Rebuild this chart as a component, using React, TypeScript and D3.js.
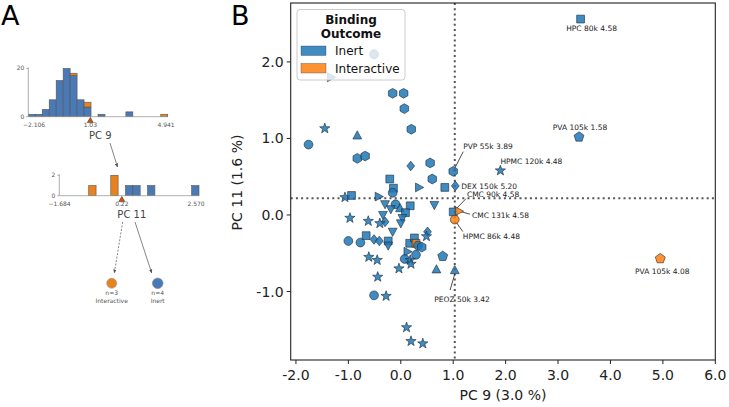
import React from 'react';
import * as d3 from 'd3';

// ---------- Panel B data ----------
const xTicks = [-2, -1, 0, 1, 2, 3, 4, 5, 6];
const yTicks = [-1, 0, 1, 2];
const splitPC9 = 1.03;
const splitPC11 = 0.22;

const pc9 = [
  -0.51, -1.33, -0.155, 0.055, 0.067, 0.2, -1.45, -1.76, -0.83, -0.83,
  -0.68, 0.19, 0.56, 0.6, 1.0, -0.21, -0.14, -0.155, 0.35, 0.84,
  1.04, -1.065, -0.94, -0.42, -0.3, -0.1, -0.015, 0.18, 0.09, -0.19,
  -0.34, 0.03, 0.0, -0.3, -0.4, -0.62, -0.97, -0.155, 0.64, 0.51,
  0.49, -1.0, -0.77, -0.66, -0.51, -0.41, -0.24, -0.24, 0.17, 0.26,
  0.29, 0.33, 0.4, 0.13, 0.075, 0.29, 0.18, 0.195, -0.61, -0.45,
  -0.035, -0.44, -0.51, -0.28, 0.11, 0.195, 0.42, 0.8, 0.68, 1.03,
  1.0, 1.11, 1.03, 4.95, 3.4, 1.9, 3.43,
];
const pc11 = [
  2.1, 1.8, 1.59, 1.59, 1.39, 1.12, 1.13, 0.92, 1.04, 0.74,
  0.77, 0.64, 0.68, 0.47, 0.57, 0.47, 0.35, 0.29, 0.36, 0.36,
  0.38, 0.23, 0.255, 0.24, 0.14, 0.14, 0.09, 0.12, 0.03, 0.075,
  0.0, -0.04, -0.11, -0.09, -0.11, -0.08, -0.04, -0.22, 0.13, -0.22,
  -0.28, -0.34, -0.36, -0.27, -0.32, -0.34, -0.34, -0.4, -0.37, -0.3,
  -0.37, -0.4, -0.42, -0.48, -0.575, -0.52, -0.59, -0.64, -0.55, -0.59,
  -0.7, -0.81, -1.05, -1.06, -1.47, -1.65, -1.68, -0.54, -0.71, -0.72,
  0.04, 0.05, -0.06, -0.57, 1.02, 0.58, 2.56,
];
// c circle, h hexagon, p pentagon, s square, d diamond, * star, ^ v > triangles
const shapes = [
  'c', '>', 'h', 'h', 'h', 'h', '*', 'c', '^', 'h',
  'h', 'd', 'h', 'h', 'h', 's', 's', 'c', '>', 's',
  'd', '*', 's', '>', 'v', 'c', '^', 's', 's', 'v',
  'v', 'v', 'v', 'd', '*', '*', '*', 'v', 'v', 'd',
  '*', 'c', 'c', 's', 'd', 'd', 's', 'v', 's', 's',
  's', 'c', 'h', '>', 'c', 'c', '*', '*', '*', '*',
  '*', '*', 'c', '*', '*', '*', '*', 'p', '^', '^',
  's', '>', 'c', 'p', 'p', '*', 's',
];
const outcome = [
  0, 0, 0, 0, 0, 0, 0, 0, 0, 0,
  0, 0, 0, 0, 0, 0, 0, 0, 0, 0,
  0, 0, 0, 0, 0, 0, 0, 0, 0, 0,
  0, 0, 0, 0, 0, 0, 0, 0, 0, 0,
  0, 0, 0, 0, 0, 0, 0, 0, 0, 0,
  1, 0, 0, 0, 0, 0, 0, 0, 0, 0,
  0, 0, 0, 0, 0, 0, 0, 0, 0, 0,
  0, 1, 1, 1, 0, 0, 0,
];
const outcomeNames = ['Inert', 'Interactive'];

const annText = [
  'HPC 80k 4.58', 'PVA 105k 1.58', 'HPMC 120k 4.48', 'PVP 55k 3.89', 'DEX 150k 5.20',
  'CMC 90k 4.58', 'CMC 131k 4.58', 'HPMC 86k 4.48', 'PVA 105k 4.08', 'PEOZ 50k 3.42',
];
const annIdx = [76, 74, 75, 14, 20, 70, 71, 72, 73, 69];

// ---------- Panel A data ----------
const pc9Domain = [-2.106, 4.941];
const pc9Inert = [1, 1, 3, 7, 15, 20, 17, 7, 4, 0, 1, 0, 0, 0, 2, 0, 0, 0, 0, 0];
const pc9Inter = [0, 0, 0, 0, 0, 0, 1, 0, 2, 0, 0, 0, 0, 0, 0, 0, 0, 0, 0, 1];
const pc11Domain = [-1.684, 2.57];
const pc11Inert = [0, 0, 0, 0, 0, 0, 0, 0, 0, 1, 1, 0, 1, 0, 0, 0, 0, 0, 1];
const pc11Inter = [0, 0, 0, 0, 1, 0, 0, 2, 0, 0, 0, 0, 0, 0, 0, 0, 0, 0, 0];
const leafN = [3, 4];
const leafName = ['Interactive', 'Inert'];

// ---------- styles / layout ----------
const FONT = 'DejaVu Sans, sans-serif';
const BLUE = '#1f77b4';
const ORANGE = '#ff7f0e';
const HBLUE = '#4a79b6';
const HORANGE = '#e8821e';

// annotation layout: [dx, dy, anchor, leader x1,y1,x2,y2 | null]
const annLayout: [number, number, string, number[] | null][] = [
  [11, 12, 'middle', null],
  [1, -7, 'middle', null],
  [0, -7, 'start', null],
  [10, -22.7, 'start', [0, 0, 10, -19.7]],
  [6, 3, 'start', null],
  [13.7, -15.2, 'start', [2.7, -2.7, 12.7, -13.2]],
  [13, 6.5, 'start', [2, 0.5, 11, 3]],
  [8, 19.7, 'start', [1, 2, 8, 12]],
  [2, 15, 'middle', null],
  [7.3, 32, 'middle', [0, 4, -4.7, 20]],
];

function poly(n: number, r: number, rot = -Math.PI / 2) {
  const pts: string[] = [];
  for (let i = 0; i < n; i++) {
    const a = rot + (i * 2 * Math.PI) / n;
    pts.push(`${(r * Math.cos(a)).toFixed(2)},${(r * Math.sin(a)).toFixed(2)}`);
  }
  return 'M' + pts.join('L') + 'Z';
}
function star(R: number, r: number) {
  const pts: string[] = [];
  for (let i = 0; i < 10; i++) {
    const a = -Math.PI / 2 + (i * Math.PI) / 5;
    const rr = i % 2 === 0 ? R : r;
    pts.push(`${(rr * Math.cos(a)).toFixed(2)},${(rr * Math.sin(a)).toFixed(2)}`);
  }
  return 'M' + pts.join('L') + 'Z';
}
function shapePath(s: string) {
  switch (s) {
    case 'c': return d3.symbol(d3.symbolCircle, Math.PI * 4.4 * 4.4)() as string;
    case 'h': return poly(6, 4.9);
    case 'p': return poly(5, 5.2);
    case 's': return 'M-3.9,-3.9L3.9,-3.9L3.9,3.9L-3.9,3.9Z';
    case 'd': return 'M0,-4.8L3.9,0L0,4.8L-3.9,0Z';
    case '*': return star(5.4, 2.2);
    case '^': return 'M0,-4.6L4.4,3.6L-4.4,3.6Z';
    case 'v': return 'M0,4.6L4.4,-3.6L-4.4,-3.6Z';
    case '>': return 'M4.6,0L-3.6,4.4L-3.6,-4.4Z';
    default: return poly(8, 4);
  }
}

function Hist({ domain, inert, inter, x0, x1, base, ppu, ymax, split, labels, labelTitle, titleY, labelCenters }: any) {
  const xs = d3.scaleLinear().domain(domain).range([x0, x1]);
  const ys = d3.scaleLinear().domain([0, ymax]).range([base, base - ymax * ppu]);
  const n = inert.length;
  const w = (domain[1] - domain[0]) / n;
  return (
    <g>
      {inert.map((c: number, i: number) => {
        const a = xs(domain[0] + i * w), b = xs(domain[0] + (i + 1) * w);
        const o = inter[i];
        return (
          <g key={i}>
            {c > 0 && <rect x={a} y={ys(c)} width={b - a} height={ys(0) - ys(c)} fill={HBLUE} stroke="#555" strokeWidth={0.6} />}
            {o > 0 && <rect x={a} y={ys(c + o)} width={b - a} height={ys(c) - ys(c + o)} fill={HORANGE} stroke="#555" strokeWidth={0.6} />}
          </g>
        );
      })}
      <line x1={x0} x2={x1} y1={base} y2={base} stroke="#999" strokeWidth={0.8} />
      <line x1={x0} x2={x0} y1={base} y2={ys(ymax) - 1} stroke="#999" strokeWidth={0.8} />
      {[0, ymax].map((t) => (
        <g key={t}>
          <line x1={x0 - 2} x2={x0} y1={ys(t)} y2={ys(t)} stroke="#999" strokeWidth={0.8} />
          <text x={x0 - 4} y={ys(t) + 2} fontSize={6} textAnchor="end" fill="#555" fontFamily={FONT}>{t}</text>
        </g>
      ))}
      {labels.map((l: string, i: number) => (
        <text key={l} x={labelCenters[i]} y={base + 10} fontSize={6} textAnchor="middle" fill="#555" fontFamily={FONT}>{l}</text>
      ))}
      <path d="M0,-2.8L3,2.4L-3,2.4Z" transform={`translate(${xs(split)},${base + 3.5})`} fill="#c4561c" stroke="#4a1a00" strokeWidth={0.5} />
      <text x={xs(split) + 10} y={titleY} fontSize={10} textAnchor="middle" fill="#444" fontFamily={FONT}>{labelTitle}</text>
    </g>
  );
}

export default function App() {
  const x = d3.scaleLinear().domain([-2.1, 6.0]).range([290.7, 715.3]);
  const y = d3.scaleLinear().domain([-1.895, 2.77]).range([360, 3]);
  const [L, R] = x.range();
  const [B, T] = y.range();
  const order = d3.range(pc9.length);

  const xs1 = d3.scaleLinear().domain(pc9Domain).range([28.3, 167.7]);
  const xs2 = d3.scaleLinear().domain(pc11Domain).range([59.3, 199]);

  return (
    <svg width={729} height={407} style={{ position: 'absolute', left: 0, top: 0, background: '#fff' }} fontFamily={FONT}>
      <defs>
        <marker id="arr" viewBox="0 0 10 10" refX="9" refY="5" markerWidth="5" markerHeight="5" orient="auto">
          <path d="M0,1L10,5L0,9Z" fill="#555" />
        </marker>
      </defs>
      <rect width={729} height={407} fill="#fff" />

      {/* Panel A */}
      <text x={1} y={25} fontSize={27} fill="#000">A</text>
      <Hist domain={pc9Domain} inert={pc9Inert} inter={pc9Inter} x0={xs1.range()[0]} x1={xs1.range()[1]} base={116.7} ppu={2.415} ymax={20}
        split={splitPC9} labels={['\u22122.106', '1.03', '4.941']} labelCenters={[34, xs1(splitPC9), 166]} labelTitle="PC 9" titleY={139} />
      <Hist domain={pc11Domain} inert={pc11Inert} inter={pc11Inter} x0={xs2.range()[0]} x1={xs2.range()[1]} base={195.7} ppu={10.2} ymax={2}
        split={splitPC11} labels={['\u22121.684', '0.22', '2.570']} labelCenters={[59.5, xs2(splitPC11), 196]} labelTitle="PC 11" titleY={217.5} />
      <line x1={110} y1={143} x2={117.5} y2={167} stroke="#666" strokeWidth={0.8} markerEnd="url(#arr)" />
      <line x1={122.7} y1={222} x2={114.3} y2={273} stroke="#666" strokeWidth={0.8} strokeDasharray="2,1.5" markerEnd="url(#arr)" />
      <line x1={135} y1={222} x2={151.7} y2={273} stroke="#666" strokeWidth={0.8} markerEnd="url(#arr)" />
      {[0, 1].map((i) => {
        const cx = i === 0 ? 111.7 : 157.7;
        return (
          <g key={i}>
            <circle cx={cx} cy={283.3} r={i === 0 ? 5 : 5.4} fill={i === 0 ? HORANGE : HBLUE} stroke="#999" strokeWidth={0.6} />
            <text x={cx} y={294.5} fontSize={6} textAnchor="middle" fill="#555">n={leafN[i]}</text>
            <text x={cx} y={302.5} fontSize={6} textAnchor="middle" fill="#555">{leafName[i]}</text>
          </g>
        );
      })}

      {/* Panel B */}
      <text x={231} y={25} fontSize={27} fill="#000">B</text>
      <line x1={x(splitPC9)} x2={x(splitPC9)} y1={T} y2={B} stroke="#555" strokeWidth={2} strokeDasharray="2,3.2" />
      <line x1={L} x2={R} y1={y(splitPC11)} y2={y(splitPC11)} stroke="#555" strokeWidth={2} strokeDasharray="2,3.2" />

      {annIdx.map((idx, k) => {
        const lay = annLayout[k];
        if (!lay[3]) return null;
        const px = x(pc9[idx]), py = y(pc11[idx]);
        const l = lay[3];
        return <line key={'l' + k} x1={px + l[0]} y1={py + l[1]} x2={px + l[2]} y2={py + l[3]} stroke="#222" strokeWidth={0.8} />;
      })}

      {order.map((i) => (
        <path key={i} d={shapePath(shapes[i])} transform={`translate(${x(pc9[i])},${y(pc11[i])})`}
          fill={outcome[i] ? ORANGE : BLUE} fillOpacity={0.85} stroke="#1a2a3a" strokeWidth={0.6} />
      ))}

      {annIdx.map((idx, k) => {
        const lay = annLayout[k];
        return (
          <text key={'t' + k} x={x(pc9[idx]) + lay[0]} y={y(pc11[idx]) + lay[1]} fontSize={7.5} textAnchor={lay[2]} fill="#222">{annText[k]}</text>
        );
      })}

      {/* frame */}
      <rect x={L} y={T} width={R - L} height={B - T} fill="none" stroke="#222" strokeWidth={1.1} />
      {xTicks.map((t) => (
        <g key={'x' + t}>
          <line x1={x(t)} x2={x(t)} y1={B} y2={B + 4} stroke="#222" strokeWidth={1} />
          <text x={x(t)} y={B + 20} fontSize={14} textAnchor="middle" fill="#222">{t.toFixed(1)}</text>
        </g>
      ))}
      {yTicks.map((t) => (
        <g key={'y' + t}>
          <line x1={L - 4} x2={L} y1={y(t)} y2={y(t)} stroke="#222" strokeWidth={1} />
          <text x={L - 7} y={y(t) + 5} fontSize={14} textAnchor="end" fill="#222">{t.toFixed(1)}</text>
        </g>
      ))}
      <text x={(L + R) / 2} y={400} fontSize={14} textAnchor="middle" fill="#222">PC 9 (3.0 %)</text>
      <text transform={`translate(242,182.5) rotate(-90)`} fontSize={14} textAnchor="middle" fill="#222">PC 11 (1.6 %)</text>

      {/* legend */}
      <rect x={297} y={9.5} width={108} height={70.5} rx={3} fill="#fff" fillOpacity={0.8} stroke="#ccc" strokeWidth={1} />
      <text x={351} y={24} fontSize={12} fontWeight="bold" textAnchor="middle" fill="#111">Binding</text>
      <text x={351} y={38} fontSize={12} fontWeight="bold" textAnchor="middle" fill="#111">Outcome</text>
      {outcomeNames.map((nm, i) => (
        <g key={nm}>
          <rect x={301} y={46 + i * 17.5} width={25} height={9.5} fill={i ? ORANGE : BLUE} fillOpacity={0.85} stroke="#1a2a3a" strokeWidth={0.3} />
          <text x={335} y={55 + i * 17.5} fontSize={12} fill="#111">{nm}</text>
        </g>
      ))}
    </svg>
  );
}
